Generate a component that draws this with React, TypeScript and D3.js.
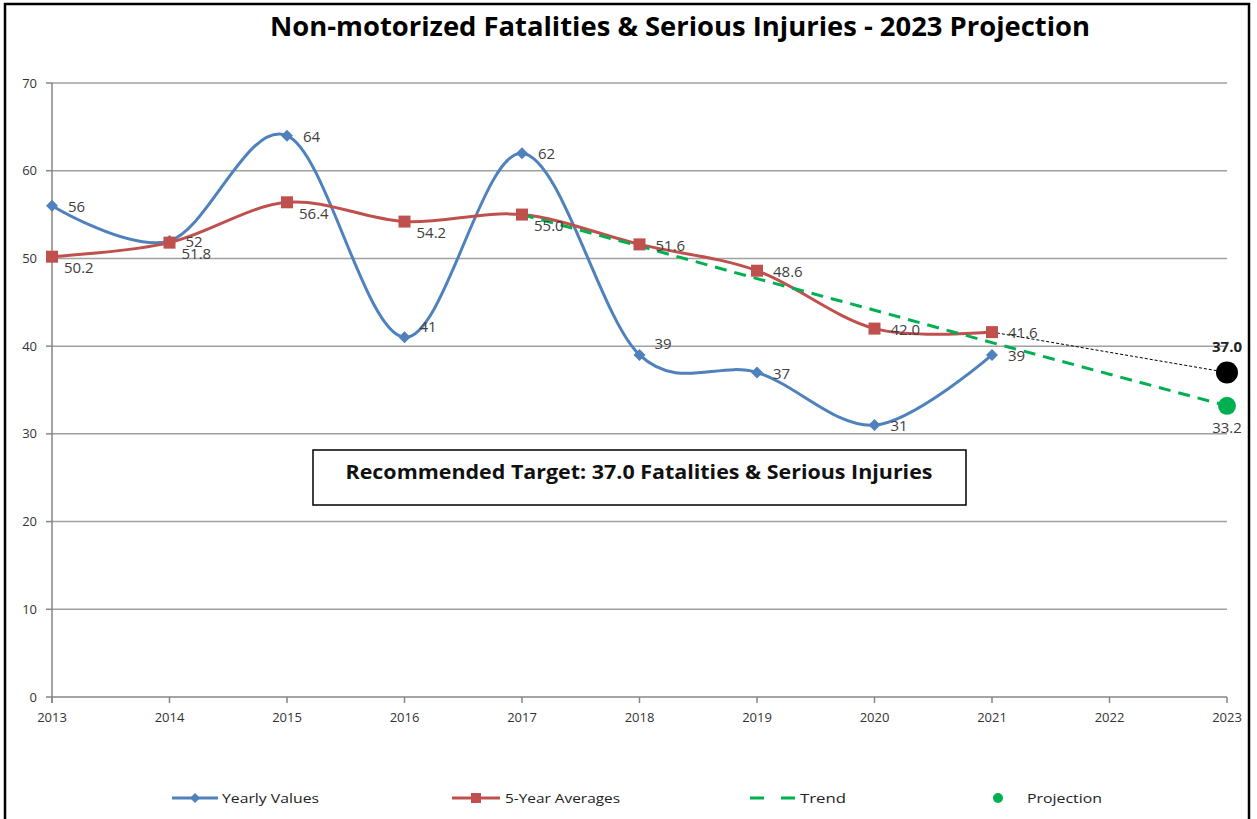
import * as d3 from "d3";

const years = [2013, 2014, 2015, 2016, 2017, 2018, 2019, 2020, 2021];
const yearlyValues = [56, 52, 64, 41, 62, 39, 37, 31, 39];
const fiveYearAvg = [50.2, 51.8, 56.4, 54.2, 55.0, 51.6, 48.6, 42.0, 41.6];
const trendYears = [2017, 2018, 2019, 2020, 2021, 2022, 2023];
const trendValues = [55.0, 51.4, 47.7, 44.1, 40.4, 36.8, 33.2];
const targetYears = [2021, 2023];
const targetValues = [41.6, 37.0];
const projection = { year: 2023, value: 33.2 };
const target = { year: 2023, value: 37.0 };
const xTicks = [2013, 2014, 2015, 2016, 2017, 2018, 2019, 2020, 2021, 2022, 2023];
const yTicks = [0, 10, 20, 30, 40, 50, 60, 70];
// label placement: r = right, ur = up-right, br = below-right
const yearlyLabelPos = ["r", "r", "r", "ur", "r", "ur", "r", "r", "r"];
const avgLabelPos = ["br", "br", "br", "br", "br", "r", "r", "r", "r"];

const W = 1257;
const H = 819;
const BLUE = "#4f81bd";
const RED = "#c0504d";
const GREEN = "#00b050";
const FONT = "'Open Sans', 'Noto Sans', sans-serif";

export default function App() {
  const x = d3.scaleLinear().domain([2013, 2023]).range([52, 1227]);
  const y = d3.scaleLinear().domain([0, 70]).range([697, 83]);

  const smooth = d3
    .line<[number, number]>()
    .x((d) => x(d[0]))
    .y((d) => y(d[1]))
    .curve(d3.curveCardinal.tension(0));
  const straight = d3
    .line<[number, number]>()
    .x((d) => x(d[0]))
    .y((d) => y(d[1]));

  const yearlyPts = years.map((yr, i) => [yr, yearlyValues[i]] as [number, number]);
  const avgPts = years.map((yr, i) => [yr, fiveYearAvg[i]] as [number, number]);
  const trendPts = trendYears.map((yr, i) => [yr, trendValues[i]] as [number, number]);
  const targetPts = targetYears.map((yr, i) => [yr, targetValues[i]] as [number, number]);

  const diamond = (cx: number, cy: number, r: number) =>
    `M${cx},${cy - r}L${cx + r},${cy}L${cx},${cy + r}L${cx - r},${cy}Z`;

  const labelOffset = (pos: string) => {
    if (pos === "ur") return { dx: 15, dy: -11 };
    if (pos === "br") return { dx: 12, dy: 11 };
    return { dx: 16, dy: 1 };
  };

  return (
    <svg
      width={W}
      height={H}
      style={{ position: "absolute", left: 0, top: 0, background: "#fff" }}
      fontFamily={FONT}
    >
      <rect x={5} y={4} width={1244} height={830} fill="#fff" stroke="#000" strokeWidth={2.5} />

      <text
        x={680}
        y={36}
        textAnchor="middle"
        fontSize={27}
        fontWeight="bold"
        fill="#000"
        textLength={820}
        lengthAdjust="spacingAndGlyphs"
      >
        Non-motorized Fatalities &amp; Serious Injuries - 2023 Projection
      </text>

      {/* gridlines */}
      {yTicks.map((t) => (
        <g key={t}>
          {t > 0 && (
            <line x1={x(2013)} x2={x(2023)} y1={y(t)} y2={y(t)} stroke="#a0a0a0" strokeWidth={1.5} />
          )}
          <line x1={x(2013) - 6} x2={x(2013)} y1={y(t)} y2={y(t)} stroke="#868686" strokeWidth={1.5} />
          <text x={37} y={y(t)} dy="0.35em" textAnchor="end" fontSize={13} fill="#333">
            {t}
          </text>
        </g>
      ))}

      {/* axes */}
      <line x1={x(2013)} x2={x(2013)} y1={y(70)} y2={y(0) + 6} stroke="#868686" strokeWidth={1.5} />
      <line x1={x(2013)} x2={x(2023)} y1={y(0)} y2={y(0)} stroke="#868686" strokeWidth={1.5} />
      {xTicks.map((t) => (
        <g key={t}>
          <line x1={x(t)} x2={x(t)} y1={y(0)} y2={y(0) + 6} stroke="#868686" strokeWidth={1.5} />
          <text x={x(t)} y={722} textAnchor="middle" fontSize={13} fill="#333">
            {t}
          </text>
        </g>
      ))}

      {/* target box */}
      <rect x={313} y={450} width={653} height={55} fill="#fff" stroke="#000" strokeWidth={1.5} />
      <text
        x={639}
        y={479}
        textAnchor="middle"
        fontSize={19}
        fontWeight="bold"
        fill="#111"
        textLength={587}
        lengthAdjust="spacingAndGlyphs"
      >
        Recommended Target: 37.0 Fatalities &amp; Serious Injuries
      </text>

      {/* series */}
      <path d={smooth(yearlyPts) || ""} fill="none" stroke={BLUE} strokeWidth={3} />
      <path d={smooth(avgPts) || ""} fill="none" stroke={RED} strokeWidth={3} />
      <path
        d={straight(trendPts) || ""}
        fill="none"
        stroke={GREEN}
        strokeWidth={3}
        strokeDasharray="12,8"
      />
      <path
        d={straight(targetPts) || ""}
        fill="none"
        stroke="#000"
        strokeWidth={1}
        strokeDasharray="3,2"
      />

      {yearlyPts.map((p, i) => (
        <path key={"yd" + i} d={diamond(x(p[0]), y(p[1]), 6)} fill={BLUE} />
      ))}
      {avgPts.map((p, i) => (
        <rect key={"as" + i} x={x(p[0]) - 6} y={y(p[1]) - 6} width={12} height={12} fill={RED} />
      ))}

      {yearlyPts.map((p, i) => {
        const o = labelOffset(yearlyLabelPos[i]);
        return (
          <text key={"yl" + i} x={x(p[0]) + o.dx} y={y(p[1]) + o.dy} dy="0.35em" fontSize={15} fill="#404040">
            {p[1]}
          </text>
        );
      })}
      {avgPts.map((p, i) => {
        const o = labelOffset(avgLabelPos[i]);
        return (
          <text key={"al" + i} x={x(p[0]) + o.dx} y={y(p[1]) + o.dy} dy="0.35em" fontSize={15} fill="#404040">
            {p[1].toFixed(1)}
          </text>
        );
      })}

      <circle cx={x(target.year)} cy={y(target.value)} r={11} fill="#000" />
      <text x={x(target.year)} y={y(target.value) - 26} dy="0.35em" textAnchor="middle" fontSize={15} fontWeight="bold" fill="#222">
        {target.value.toFixed(1)}
      </text>
      <circle cx={x(projection.year)} cy={y(projection.value)} r={9} fill={GREEN} />
      <text x={x(projection.year)} y={y(projection.value) + 22} dy="0.35em" textAnchor="middle" fontSize={15} fill="#404040">
        {projection.value.toFixed(1)}
      </text>

      {/* legend */}
      <g fontSize={13} fill="#222">
        <line x1={172} x2={218} y1={798} y2={798} stroke={BLUE} strokeWidth={3} />
        <path d={diamond(195, 798, 5)} fill={BLUE} />
        <text x={222} y={798} dy="0.35em" textLength={97} lengthAdjust="spacingAndGlyphs">
          Yearly Values
        </text>

        <line x1={452} x2={500} y1={798} y2={798} stroke={RED} strokeWidth={3} />
        <rect x={471} y={793} width={10} height={10} fill={RED} />
        <text x={505} y={798} dy="0.35em" textLength={115} lengthAdjust="spacingAndGlyphs">
          5-Year Averages
        </text>

        <line x1={750} x2={796} y1={798} y2={798} stroke={GREEN} strokeWidth={3} strokeDasharray="14,17" />
        <text x={800} y={798} dy="0.35em" textLength={46} lengthAdjust="spacingAndGlyphs">
          Trend
        </text>

        <circle cx={998} cy={798} r={5} fill={GREEN} />
        <text x={1027} y={798} dy="0.35em" textLength={75} lengthAdjust="spacingAndGlyphs">
          Projection
        </text>
      </g>
    </svg>
  );
}
